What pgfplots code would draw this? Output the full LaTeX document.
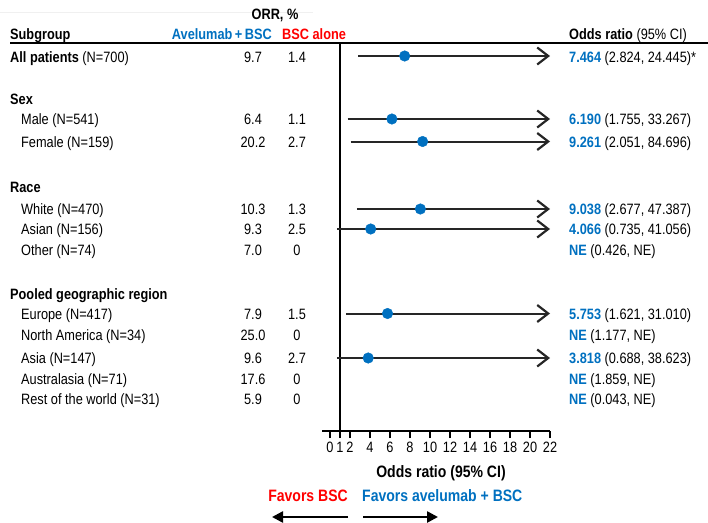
\documentclass[border=0pt]{standalone}
\usepackage{pgfplots}
\pgfplotsset{compat=1.18}
\usepackage{fontspec}
\setmainfont[FakeStretch=0.85]{Liberation Sans}
\usetikzlibrary{arrows.meta}
\definecolor{cblue}{HTML}{0070C0}
\definecolor{cred}{HTML}{FF0000}
\definecolor{cline}{HTML}{262626}
\begin{document}
\fontsize{15bp}{18bp}\selectfont
\begin{tikzpicture}[x=1bp,y=1bp]
\useasboundingbox (0,0) rectangle (708,-523);
\draw[gray!12, line width=0.8bp] (0,-12) -- (313,-12);
\begin{scope}[yshift=-5.5bp, every node/.style={inner sep=0pt}]
% header
\node[anchor=base, font=\bfseries] at (275,-14) {ORR, \%};
\node[anchor=base west, font=\bfseries] at (10,-34) {Subgroup};
\node[anchor=base east, font=\bfseries, text=cblue] at (272,-34) {Avelumab\,+\,BSC};
\node[anchor=base west, font=\bfseries, text=cred] at (282,-34) {BSC alone};
\node[anchor=base west] at (569,-34) {\textbf{Odds ratio} (95\% CI)};
% left labels
\begin{scope}[every node/.append style={anchor=base west}]
\node at (10,-57) {\textbf{All patients} (N=700)};
\node at (10,-99) {\textbf{Sex}};
\node at (21,-119) {Male (N=541)};
\node at (21,-142) {Female (N=159)};
\node at (10,-187) {\textbf{Race}};
\node at (21,-209) {White (N=470)};
\node at (21,-229) {Asian (N=156)};
\node at (21,-250) {Other (N=74)};
\node at (10,-294) {\textbf{Pooled geographic region}};
\node at (21,-314) {Europe (N=417)};
\node at (21,-335) {North America (N=34)};
\node at (21,-358) {Asia (N=147)};
\node at (21,-379) {Australasia (N=71)};
\node at (21,-399) {Rest of the world (N=31)};
\end{scope}
% ORR columns
\begin{scope}[every node/.append style={anchor=base}]
\foreach \y/\a/\b in {57/9.7/1.4, 119/6.4/1.1, 142/20.2/2.7, 209/10.3/1.3, 229/9.3/2.5, 250/7.0/0, 314/7.9/1.5, 335/25.0/0, 358/9.6/2.7, 379/17.6/0, 399/5.9/0}{
  \node at (253,-\y) {\a};
  \node at (297,-\y) {\b};
}
\end{scope}
% right column
\begin{scope}[every node/.append style={anchor=base west}]
\node at (569,-57) {\textcolor{cblue}{\textbf{7.464}} (2.824, 24.445)*};
\node at (569,-119) {\textcolor{cblue}{\textbf{6.190}} (1.755, 33.267)};
\node at (569,-142) {\textcolor{cblue}{\textbf{9.261}} (2.051, 84.696)};
\node at (569,-209) {\textcolor{cblue}{\textbf{9.038}} (2.677, 47.387)};
\node at (569,-229) {\textcolor{cblue}{\textbf{4.066}} (0.735, 41.056)};
\node at (569,-250) {\textcolor{cblue}{\textbf{NE}} (0.426, NE)};
\node at (569,-314) {\textcolor{cblue}{\textbf{5.753}} (1.621, 31.010)};
\node at (569,-335) {\textcolor{cblue}{\textbf{NE}} (1.177, NE)};
\node at (569,-358) {\textcolor{cblue}{\textbf{3.818}} (0.688, 38.623)};
\node at (569,-379) {\textcolor{cblue}{\textbf{NE}} (1.859, NE)};
\node at (569,-399) {\textcolor{cblue}{\textbf{NE}} (0.043, NE)};
\end{scope}
% favors
\node[anchor=base east, font=\fontsize{16.5bp}{19bp}\selectfont\bfseries, text=cred] at (348,-496) {Favors BSC};
\node[anchor=base west, font=\fontsize{16.5bp}{19bp}\selectfont\bfseries, text=cblue] at (362,-496) {Favors avelumab + BSC};
\node[anchor=base, font=\fontsize{16.5bp}{19bp}\selectfont\bfseries] at (441,-472) {Odds ratio (95\% CI)};
\end{scope}
\draw[line width=1.5bp] (10,-43) -- (708,-43);
\begin{axis}[
  at={(322,-431)}, anchor=south west,
  scale only axis, width=228bp, height=388bp,
  xmin=-0.8, xmax=22, ymin=-431, ymax=-43,
  axis x line*=bottom, hide y axis,
  x axis line style={line width=2bp},
  xtick={0,1,2,4,6,8,10,12,14,16,18,20,22},
  tick align=outside, major tick length=7bp,
  x tick style={line width=1.5bp, black},
  /pgf/number format/assume math mode=true,
  x tick label style={font=\fontsize{15bp}{18bp}\selectfont, inner sep=0pt, anchor=base, yshift=-14bp},
  clip=false,
]
\addplot[line width=2bp, black] coordinates {(1,-43) (1,-431)};
\pgfplotsset{cistyle/.style={line width=2bp, cline, -{Straight Barb[length=11bp,width=17bp,line width=2.2bp]}}}
\addplot[cistyle] coordinates {(2.824,-56) (22,-56)};
\addplot[cistyle] coordinates {(1.755,-119) (22,-119)};
\addplot[cistyle] coordinates {(2.051,-141.5) (22,-141.5)};
\addplot[cistyle] coordinates {(2.677,-209) (22,-209)};
\addplot[cistyle] coordinates {(0.735,-229) (22,-229)};
\addplot[cistyle] coordinates {(1.621,-313.5) (22,-313.5)};
\addplot[cistyle] coordinates {(0.688,-358) (22,-358)};
\addplot[only marks, mark=*, mark size=5.3bp, cblue, mark options={draw=cblue, fill=cblue}] coordinates {
(7.464,-56) (6.190,-119) (9.261,-141.5) (9.038,-209) (4.066,-229) (5.753,-313.5) (3.818,-358)};
\end{axis}
\draw[line width=2.5bp, -{Triangle[length=11bp,width=11bp]}] (348,-517) -- (272,-517);
\draw[line width=2.5bp, -{Triangle[length=11bp,width=11bp]}] (363,-517) -- (438,-517);
\end{tikzpicture}
\end{document}
